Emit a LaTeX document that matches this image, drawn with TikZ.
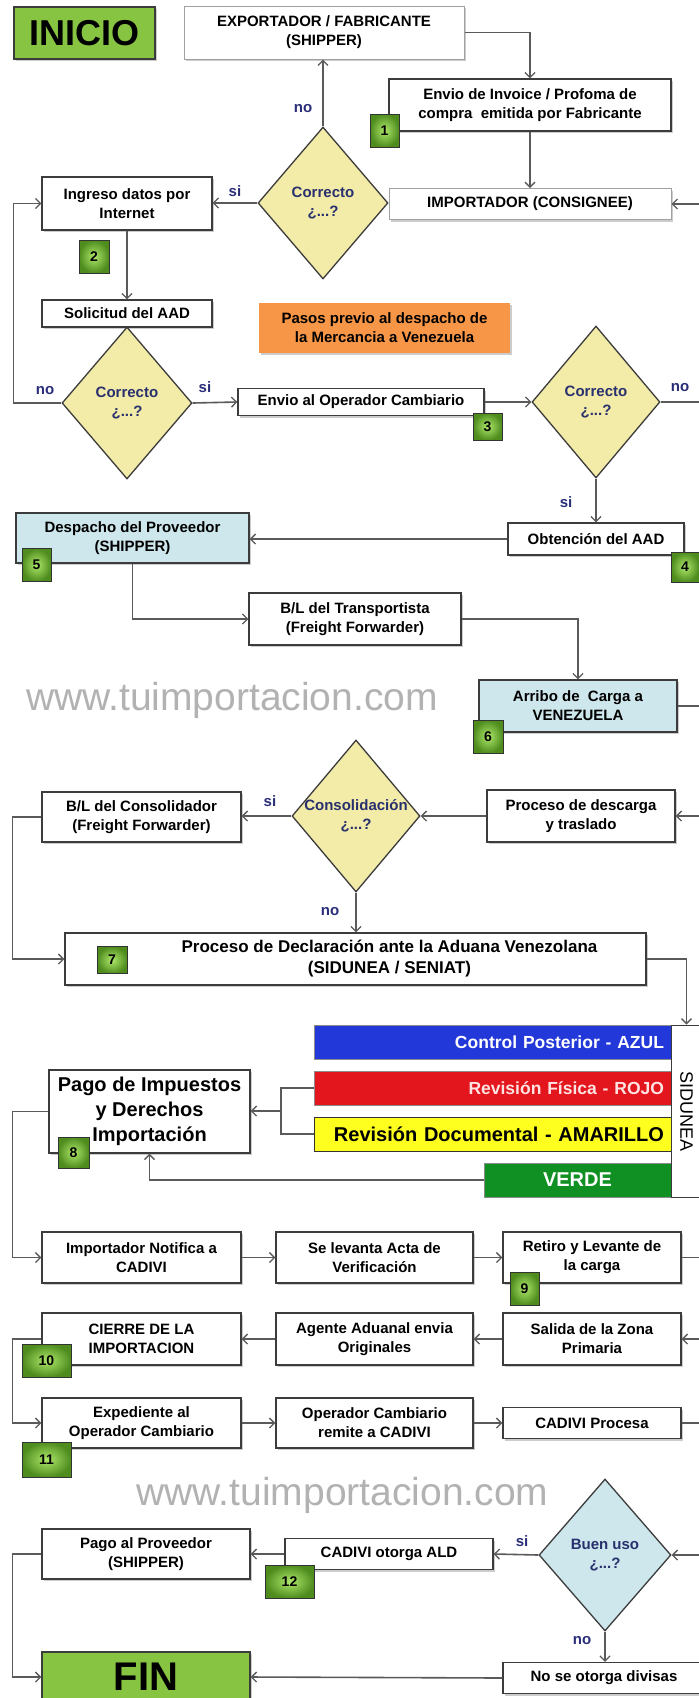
\documentclass[tikz,border=0pt]{standalone}
\usepackage{fontspec}
\setmainfont{Liberation Sans}
\usepackage{tikz}
\usetikzlibrary{calc}
\usetikzlibrary{arrows.meta}
\usetikzlibrary{shapes.geometric}
\usetikzlibrary{shadows}

\definecolor{boxline}{HTML}{3C3C3C}
\definecolor{lightline}{HTML}{A0A0A0}
\definecolor{lineclr}{HTML}{5A5A5A}
\definecolor{decfill}{HTML}{F3EBA8}
\definecolor{bluefill}{HTML}{CDE7EC}
\definecolor{startfill}{HTML}{86C441}
\definecolor{orangefill}{HTML}{F79646}
\definecolor{azulfill}{HTML}{2338D9}
\definecolor{rojofill}{HTML}{E2161C}
\definecolor{amarfill}{HTML}{FFFF1F}
\definecolor{verdefill}{HTML}{108F22}
\definecolor{rojotxt}{HTML}{FFE2E2}
\definecolor{navy}{HTML}{28306E}
\definecolor{ynclr}{HTML}{2A2E78}
\definecolor{tagLight}{HTML}{AEE86A}
\definecolor{tagDark}{HTML}{4E8C1E}
\definecolor{wmark}{HTML}{B2B2B2}

\begin{document}
\begin{tikzpicture}[x=1pt,y=-1pt,
    proc/.style={draw=boxline,line width=1.3pt,fill=white,align=center,inner sep=0pt,
        font=\fontsize{15}{19}\selectfont\bfseries,
        drop shadow={shadow xshift=2pt,shadow yshift=-2pt,fill=black,opacity=.2}},
    decision/.style={diamond,draw=boxline,line width=1.3pt,fill=decfill,inner sep=0pt,
        minimum width=130,minimum height=152},
    dectxt/.style={align=center,text=navy,font=\fontsize{15}{19}\selectfont\bfseries},
    sidbar/.style={draw=black!45,line width=.8pt,inner xsep=7pt,inner ysep=2pt,
        minimum height=34,text=white,font=\fontsize{20}{24}\selectfont\bfseries},
    numtag/.style={draw=black!80,line width=1pt,inner color=tagLight,outer color=tagDark,
        inner sep=0pt,font=\fontsize{14}{16}\selectfont\bfseries},
    yn/.style={text=ynclr,font=\fontsize{15}{17}\selectfont\bfseries},
    wm/.style={text=wmark,font=\fontsize{39}{40}\selectfont},
    link/.style={draw=lineclr,line width=1.6pt},
    flow/.style={link,-{Straight Barb[length=5pt,width=10pt,line width=1.3pt]}}]
  \path[use as bounding box,fill=white] (0,0) rectangle (699,1698);

  \node[wm] (wm1) at (232,700) {www.tuimportacion.com};
  \node[wm] (wm2) at (342.5,1495) {www.tuimportacion.com};

  \node[proc,fill=startfill,minimum width=141,minimum height=52,
    font=\fontsize{36}{40}\selectfont\bfseries] (inicio) at (84.5,33) {INICIO};
  \node[proc,draw=lightline,line width=1pt,minimum width=280,minimum height=53] (exp)
    at (324,32.5) {EXPORTADOR / FABRICANTE\\(SHIPPER)};
  \node[proc,minimum width=282,minimum height=52] (inv) at (530,105)
    {Envio de Invoice / Profoma de\\compra\ \ emitida por Fabricante};
  \node[proc,draw=lightline,line width=1pt,minimum width=282,minimum height=31] (imp)
    at (530,204) {IMPORTADOR (CONSIGNEE)};
  \node[decision] (dec1) at (323,203) {};
  \node[dectxt] (dec1t) at (dec1) {Correcto\\¿...?};
  \node[proc,minimum width=170,minimum height=53] (ing) at (127,203.5)
    {Ingreso datos por\\Internet};
  \node[proc,minimum width=170,minimum height=27] (sol) at (127,313.5) {Solicitud del AAD};
  \node[decision] (dec2) at (127,403) {};
  \node[dectxt] (dec2t) at (dec2) {Correcto\\¿...?};
  \node[proc,draw=none,fill=orangefill,minimum width=251,minimum height=50] (pasos)
    at (384.5,328) {Pasos previo al despacho de\\la Mercancia a Venezuela};
  \node[proc,minimum width=246,minimum height=27] (env) at (361,402)
    {Envio al Operador Cambiario};
  \node[decision,minimum width=128] (dec3) at (596,402) {};
  \node[dectxt] (dec3t) at (dec3) {Correcto\\¿...?};
  \node[proc,minimum width=176,minimum height=32] (obt) at (596,539) {Obtención del AAD};
  \node[proc,fill=bluefill,minimum width=233,minimum height=50] (desp) at (132.5,538)
    {Despacho del Proveedor\\(SHIPPER)};
  \node[proc,minimum width=212,minimum height=52] (blt) at (355,619)
    {B/L del Transportista\\(Freight Forwarder)};
  \node[proc,fill=bluefill,minimum width=198,minimum height=52] (arr) at (578,706)
    {Arribo de\ \ Carga a\\VENEZUELA};
  \node[proc,minimum width=188,minimum height=52] (desc) at (581,816)
    {Proceso de descarga\\y traslado};
  \node[decision,minimum width=128] (dec4) at (356,816) {};
  \node[dectxt] (dec4t) at (dec4) {Consolidación\\¿...?};
  \node[proc,minimum width=199,minimum height=50] (blc) at (141.5,817)
    {B/L del Consolidador\\(Freight Forwarder)};
  \node[proc,minimum width=581,minimum height=52] (decl) at (355.5,959) {};
  \node[dectxt,text=black,font=\fontsize{17}{21}\selectfont\bfseries] (declt)
    at ($(decl)+(34,0)$)
    {Proceso de Declaración ante la Aduana Venezolana\\(SIDUNEA / SENIAT)};

  \node[sidbar,fill=azulfill,text width=343pt,align=right,
    font=\fontsize{17.5}{21}\selectfont\bfseries] (azul) at (492.5,1042)
    {Control Posterior - AZUL};
  \node[sidbar,fill=rojofill,text=rojotxt,text width=343pt,align=right,
    font=\fontsize{17.5}{21}\selectfont\bfseries] (rojo)
    at (492.5,1088) {Revisión Física - ROJO};
  \node[sidbar,fill=amarfill,draw=black!80,text=black,text width=343pt,align=right] (amar)
    at (492.5,1134) {Revisión Documental - AMARILLO};
  \node[sidbar,fill=verdefill,minimum width=187] (verde) at (577.5,1180) {VERDE};
  \node[draw=boxline,line width=1pt,fill=white,minimum width=31,minimum height=172,
    inner sep=0pt] (sid) at (686.5,1111) {};
  \node[rotate=-90,font=\fontsize{18}{20}\selectfont] (sidt) at (sid) {SIDUNEA};
  \coordinate (jn) at (281,1111);
  \node[proc,minimum width=201,minimum height=83,font=\fontsize{20}{25}\selectfont\bfseries]
    (pago) at (149.5,1111.5) {Pago de Impuestos\\y Derechos\\Importación};

  \node[proc,minimum width=199,minimum height=51] (not) at (141.5,1257.5)
    {Importador Notifica a\\CADIVI};
  \node[proc,minimum width=197,minimum height=51] (acta) at (374.5,1257.5)
    {Se levanta Acta de\\Verificación};
  \node[proc,minimum width=178,minimum height=51] (ret) at (592,1257.5)
    {Retiro y Levante de\\la carga};
  \node[proc,minimum width=178,minimum height=52] (sal) at (592,1339)
    {Salida de la Zona\\Primaria};
  \node[proc,minimum width=197,minimum height=52] (age) at (374.5,1339)
    {Agente Aduanal envia\\Originales};
  \node[proc,minimum width=199,minimum height=52] (cie) at (141.5,1339)
    {CIERRE DE LA\\IMPORTACION};
  \node[proc,minimum width=199,minimum height=50] (exped) at (141.5,1423)
    {Expediente al\\Operador Cambiario};
  \node[proc,minimum width=197,minimum height=50] (opc) at (374.5,1423)
    {Operador Cambiario\\remite a CADIVI};
  \node[proc,minimum width=178,minimum height=31] (cadp) at (592,1423) {CADIVI Procesa};

  \node[decision,fill=bluefill,minimum width=132] (buen) at (605,1555) {};
  \node[dectxt] (buent) at (buen) {Buen uso\\¿...?};
  \node[proc,minimum width=208,minimum height=31] (ald) at (389,1554) {CADIVI otorga ALD};
  \node[proc,minimum width=208,minimum height=50] (pprov) at (146,1554)
    {Pago al Proveedor\\(SHIPPER)};
  \node[proc,fill=startfill,minimum width=208,minimum height=50,
    font=\fontsize{40}{44}\selectfont\bfseries] (fin) at (146,1677) {FIN};
  \node[proc,minimum width=202,minimum height=31] (nod) at (604,1678)
    {No se otorga divisas};

  \draw[flow] (exp.east) -| (inv.north);
  \draw[flow] (inv.south) -- (imp.north);
  \draw[flow] (dec1.north) -- (dec1.north |- exp.south);
  \draw[flow] (dec1.west) -- (dec1.west -| ing.east);
  \draw[flow] (ing.south) -- (sol.north);
  \draw[flow] (dec2.west) -- ++(-48,0) |- (ing.west);
  \draw[flow] (dec2.east) -- (env.west);
  \draw[flow] (env.east) -- (dec3.west);
  \draw[flow] (dec3.east) -- ++(42,0) |- (imp.east);
  \draw[flow] (dec3.south) -- (obt.north);
  \draw[flow] (obt.west) -- (obt.west -| desp.east);
  \draw[flow] (desp.south) |- (blt.west);
  \draw[flow] (blt.east) -| (arr.north);
  \draw[flow] (arr.east) -- ++(25,0) |- (desc.east);
  \draw[flow] (desc.west) -- (dec4.east);
  \draw[flow] (dec4.west) -- (dec4.west -| blc.east);
  \draw[flow] (blc.west) -- ++(-29,0) |- (decl.west);
  \draw[flow] (dec4.south) -- (dec4.south |- decl.north);
  \draw[flow] (decl.east) -| (sid.north);
  \draw[link] (rojo.west) -| (jn) |- (amar.west);
  \draw[flow] (jn) -- (jn -| pago.east);
  \draw[flow] (verde.west) -| (pago.south);
  \draw[flow] (pago.west) -- ++(-36,0) |- (not.west);
  \draw[flow] (not.east) -- (acta.west);
  \draw[flow] (acta.east) -- (ret.west);
  \draw[flow] (ret.east) -- ++(21,0) |- (sal.east);
  \draw[flow] (sal.west) -- (age.east);
  \draw[flow] (age.west) -- (cie.east);
  \draw[flow] (cie.west) -- ++(-29,0) |- (exped.west);
  \draw[flow] (exped.east) -- (opc.west);
  \draw[flow] (opc.east) -- (cadp.west);
  \draw[flow] (cadp.east) -- ++(21,0) |- (buen.east);
  \draw[flow] (buen.west) -- (ald.east);
  \draw[flow] (ald.west) -- (pprov.east);
  \draw[flow] (pprov.west) -- ++(-29,0) |- (fin.west);
  \draw[flow] (buen.south) -- (buen.south |- nod.north);
  \draw[flow] (nod.west) -- (fin.east);

  \foreach \t/\x/\y [count=\i] in {no/303/109,si/235/191,no/45/391,si/205/387,
      no/680/388,si/566/502,si/270/801,no/330/912,si/522/1541,no/582/1641} {
      \node[yn] (yn\i) at (\x,\y) {\t};
    }
  \foreach \n/\x/\y/\w/\h in {1/384.5/130.5/29/33,2/94/256.5/30/33,3/487.5/426.5/29/27,
      4/685/567/28/30,5/36.5/565/29/33,6/488/736.5/30/33,7/112/960/30/27,
      8/73.5/1152.5/31/31,9/524.5/1288.5/29/33,10/46.5/1360.5/49/33,
      11/46.5/1459.5/49/35,12/289.5/1581.5/49/33} {
      \node[numtag,minimum width=\w,minimum height=\h] (tag\n) at (\x,\y) {\n};
    }
\end{tikzpicture}
\end{document}
